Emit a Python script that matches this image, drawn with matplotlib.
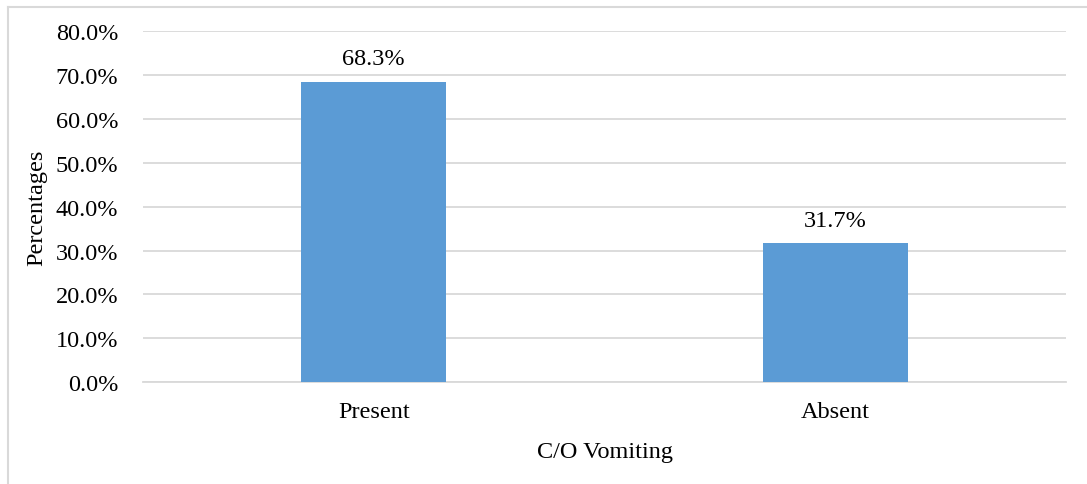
import matplotlib
matplotlib.use("Agg")
from matplotlib import pyplot as plt
from matplotlib.lines import Line2D

# Complaint of vomiting, share of patients
categories = ["Present", "Absent"]
percentages = [68.3, 31.7]
y_ticks = [0, 10, 20, 30, 40, 50, 60, 70, 80]

plt.rcParams["font.family"] = ["Liberation Serif", "DejaVu Serif"]
FS = 17.5

fig = plt.figure(figsize=(10.87, 4.85), dpi=100)
ax = fig.add_axes([0.1316, 0.2093, 0.8491, 0.7257])

x = range(len(categories))
bars = ax.bar(x, percentages, width=0.314, color="#5B9BD5", zorder=3)

for bar, value in zip(bars, percentages):
    ax.annotate(f"{value:.1f}%", (bar.get_x() + bar.get_width() / 2, value),
                xytext=(0, 9), textcoords="offset points",
                ha="center", va="bottom", fontsize=FS)

ax.set_xlim(-0.5, len(categories) - 0.5)
ax.set_ylim(0, 80)
ax.set_yticks(y_ticks)
ax.set_yticklabels([f"{t:.1f}%" for t in y_ticks], fontsize=FS)
ax.set_xticks(list(x))
ax.set_xticklabels(categories, fontsize=FS)
ax.tick_params(axis="y", length=0, pad=18)
ax.tick_params(axis="x", length=0, pad=13)

ax.grid(axis="y", color="#D9D9D9", linewidth=1.3, zorder=0)
for side in ["top", "right", "left"]:
    ax.spines[side].set_visible(False)
ax.spines["bottom"].set_color("#D9D9D9")
ax.spines["bottom"].set_linewidth(1.3)

ax.set_xlabel("C/O Vomiting", fontsize=FS, labelpad=14)
ax.set_ylabel("Percentages", fontsize=FS, labelpad=6)

# Outer chart border (top and left edges)
fig.add_artist(Line2D([0.0074, 1.0], [0.9835, 0.9835], color="#D9D9D9",
                      linewidth=1.5, transform=fig.transFigure))
fig.add_artist(Line2D([0.0074, 0.0074], [0.0, 0.9835], color="#D9D9D9",
                      linewidth=1.5, transform=fig.transFigure))

fig.savefig("out.png", dpi=100)
